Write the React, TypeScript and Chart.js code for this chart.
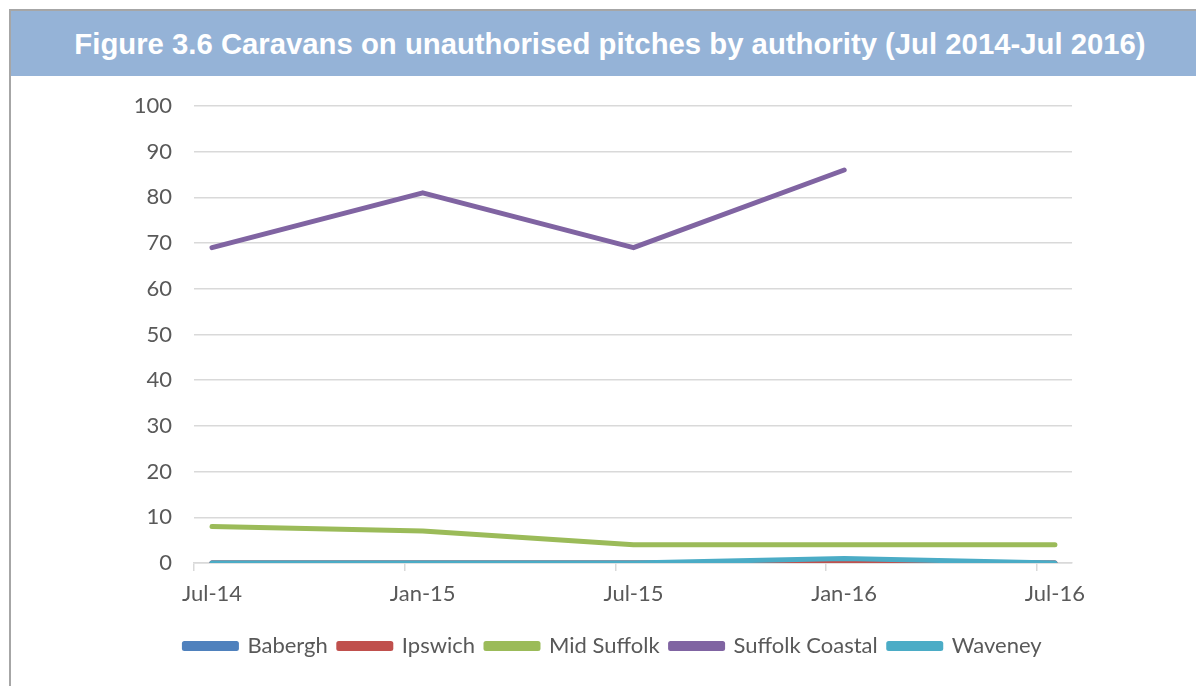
import React, { useEffect, useRef } from "react";
import { Chart, registerables } from "chart.js";

Chart.register(...registerables);

const categories = ["Jul-14", "Jan-15", "Jul-15", "Jan-16", "Jul-16"];
const babergh = [0, 0, 0, 0, 0];
const ipswich = [0, 0, 0, 0, 0];
const midSuffolk = [8, 7, 4, 4, 4];
const suffolkCoastal = [69, 81, 69, 86, null];
const waveney = [0, 0, 0, 1, 0];
const yTicks = [0, 10, 20, 30, 40, 50, 60, 70, 80, 90, 100];

const titleText = "Figure 3.6 Caravans on unauthorised pitches by authority (Jul 2014-Jul 2016)";

const FONT = "Lato, 'Open Sans', sans-serif";

function toPoints(values: (number | null)[]) {
  return values.map((v, i) => ({ x: i, y: v }));
}

export default function App() {
  const canvasRef = useRef<HTMLCanvasElement | null>(null);

  useEffect(() => {
    const canvas = canvasRef.current;
    if (!canvas) return;
    const series = [
      { label: "Babergh", data: babergh, color: "#4F81BD", order: 5 },
      { label: "Ipswich", data: ipswich, color: "#C0504D", order: 4 },
      { label: "Mid Suffolk", data: midSuffolk, color: "#9BBB59", order: 3 },
      { label: "Suffolk Coastal", data: suffolkCoastal, color: "#8064A2", order: 2 },
      { label: "Waveney", data: waveney, color: "#4BACC6", order: 1 },
    ];
    const shift = 0.0854;
    const chart = new Chart(canvas, {
      type: "line",
      data: {
        datasets: series.map((s) => ({
          label: s.label,
          data: toPoints(s.data) as any,
          borderColor: s.color,
          backgroundColor: s.color,
          borderWidth: 5,
          pointRadius: 0,
          pointHoverRadius: 0,
          tension: 0,
          borderJoinStyle: "round" as const,
          borderCapStyle: "round" as const,
          spanGaps: false,
          order: s.order,
          yAxisID: "y",
        })),
      },
      options: {
        animation: false,
        responsive: false,
        devicePixelRatio: 1,
        layout: { padding: { left: 134, right: 104, top: 46, bottom: 19 } },
        plugins: {
          tooltip: { enabled: false },
          legend: {
            position: "bottom",
            labels: {
              boxWidth: 52,
              boxHeight: 5,
              padding: 11,
              color: "#595959",
              font: { family: FONT, size: 22 },
              sort: (a: any, b: any) => a.datasetIndex - b.datasetIndex,
            },
          },
        },
        scales: {
          x: {
            type: "linear",
            min: -shift,
            max: 4.081,
            afterBuildTicks: (s: any) => {
              s.ticks = categories.map((_, i) => ({ value: i - shift }));
            },
            afterFit: (s: any) => {
              s.height = 61;
            },
            ticks: {
              autoSkip: false,
              maxRotation: 0,
              labelOffset: 18,
              padding: 10,
              color: "#595959",
              font: { family: FONT, size: 22 },
              callback: (_v: any, i: number) => categories[i],
            },
            grid: { drawOnChartArea: false, tickLength: 8, color: "#D9D9D9", lineWidth: 1.5 },
            border: { color: "#D9D9D9", width: 1.5 },
          },
          y: {
            position: "left",
            min: 0,
            max: 100,
            afterBuildTicks: (s: any) => {
              s.ticks = yTicks.map((v) => ({ value: v }));
            },
            afterFit: (s: any) => {
              s.width = 60;
            },
            ticks: {
              padding: 22,
              color: "#595959",
              font: { family: FONT, size: 22 },
            },
            grid: { drawTicks: false, color: "#D9D9D9", lineWidth: 1.5 },
            border: { display: false },
          },
          yRight: {
            position: "right",
            min: 0,
            max: 1,
            afterFit: (s: any) => {
              s.width = 20;
            },
            ticks: { display: false },
            grid: { display: false, drawTicks: false },
            border: { display: false },
          },
        },
      },
    });
    return () => chart.destroy();
  }, []);

  return (
    <div
      style={{
        position: "fixed",
        left: 0,
        top: 0,
        width: 1196,
        height: 686,
        overflow: "hidden",
        background: "#fff",
      }}
    >
      <div
        style={{
          position: "absolute",
          left: 9,
          top: 9,
          width: 1400,
          height: 900,
          borderTop: "2px solid #A6A6A6",
          borderLeft: "2px solid #A6A6A6",
        }}
      />
      <div style={{ position: "absolute", left: 0, top: 60, width: 1196, height: 626 }}>
        <canvas ref={canvasRef} width={1196} height={626} style={{ display: "block" }} />
      </div>
      <div
        style={{
          position: "absolute",
          left: 11,
          top: 11,
          width: 1198,
          height: 65,
          background: "#95B3D7",
          color: "#fff",
          fontFamily: "'Liberation Sans', Arial, sans-serif",
          fontWeight: "bold",
          fontSize: 29.3,
          display: "flex",
          alignItems: "center",
          justifyContent: "center",
          whiteSpace: "nowrap",
        }}
      >
        {titleText}
      </div>
    </div>
  );
}
